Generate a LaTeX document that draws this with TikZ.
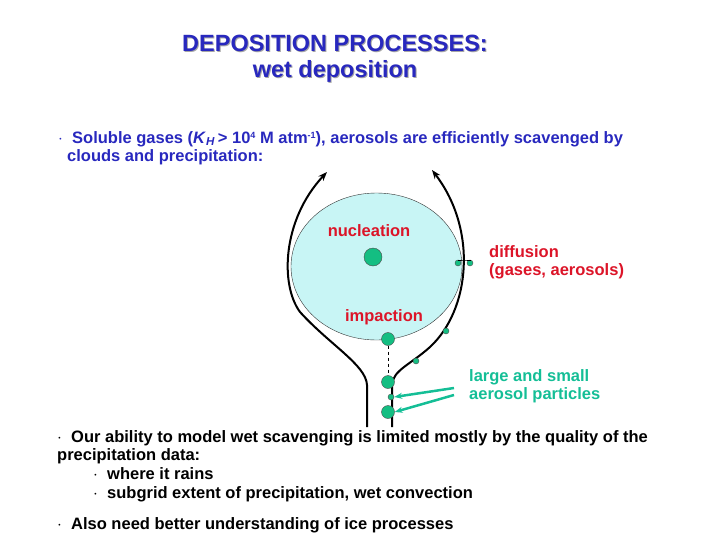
\documentclass[tikz,border=0pt]{standalone}
\usepackage{fontspec}
\setmainfont{Liberation Sans}
\usetikzlibrary{arrows.meta}
\definecolor{titleblue}{RGB}{40,40,190}
\definecolor{labelred}{RGB}{220,20,40}
\definecolor{aerosolteal}{RGB}{20,190,150}
\definecolor{cloudcyan}{RGB}{200,245,245}
\definecolor{dropgreen}{RGB}{20,190,130}
\begin{document}
\begin{tikzpicture}[x=1pt,y=-1pt,font=\bfseries\fontsize{16.5}{18}\selectfont,
    every node/.style={inner sep=0pt,anchor=base west},
    titletext/.style={anchor=base,font=\bfseries\fontsize{23.5}{26}\selectfont},
    drop/.style={circle,draw=black!70,fill=dropgreen,inner sep=0pt,anchor=center}]
    \useasboundingbox (0,0) rectangle (728,546);

    % title with shadow
    \node[titletext,text=black!35] at (336,52) {DEPOSITION PROCESSES:};
    \node[titletext,text=titleblue] (title) at (335,51) {DEPOSITION PROCESSES:};
    \node[titletext,text=black!35] at (336,78) {wet deposition};
    \node[titletext,text=titleblue] (subtitle) at (335,77) {wet deposition};

    \node[text=titleblue] (intro1) at (58,143) {$\cdot$\ \ Soluble gases (\textit{K}\textsubscript{\textit{H}}\,> 10{\fontsize{9}{9}\selectfont\raisebox{5pt}{4}} M atm{\fontsize{9}{9}\selectfont\raisebox{5pt}{-1}}), aerosols are efficiently scavenged by};
    \node[text=titleblue] (intro2) at (67,161) {clouds and precipitation:};

    % cloud
    \draw[fill=cloudcyan,draw=black!80] (376.5,266.5) ellipse [x radius=85.5,y radius=73.5];

    % flow lines
    \draw[line width=2pt,-{Stealth[length=9pt]}] (367,427) -- (367,385) .. controls (366,365) and (330,345) .. (300,312)
          .. controls (280,285) and (282,220) .. (327,172);
    \draw[line width=2pt,-{Stealth[length=9pt]}] (392,427) -- (392,385) .. controls (393,370) and (410,365) .. (430,347)
          .. controls (470,310) and (478,230) .. (432,170);

    % drops
    \node[drop,minimum size=18pt] (nucl) at (373,257) {};
    \node[drop,minimum size=13pt] (imp) at (388,339) {};
    \node[drop,minimum size=13pt] (d1) at (388,382) {};
    \node[drop,minimum size=6pt] (d2) at (391,397) {};
    \node[drop,minimum size=13pt] (d3) at (388,412) {};
    \node[drop,minimum size=6pt] (diffa) at (458,263) {};
    \node[drop,minimum size=6pt] (diffb) at (470,263) {};
    \node[drop,minimum size=6pt] (r1) at (446,331) {};
    \node[drop,minimum size=6pt] (r2) at (416,361) {};
    \draw (diffa.north) |- (464,260) -| (diffb.north);
    \draw[dashed,thick] (imp) -- (d1);

    % labels
    \node[anchor=base,text=labelred] (nucllab) at (369,236) {nucleation};
    \node[anchor=base,text=labelred] (implab) at (384,321) {impaction};
    \node[text=labelred] (difflab) at (489,257) {diffusion};
    \node[text=labelred] (difflab2) at (489,275) {(gases, aerosols)};
    \node[text=aerosolteal] (aerlab) at (469,381) {large and small};
    \node[text=aerosolteal] (aerlab2) at (469,399) {aerosol particles};
    \coordinate (a1) at (454,388);
    \coordinate (a2) at (454,395);
    \draw[aerosolteal,line width=2.5pt,-{Stealth[length=8pt]}] (a1) -- (d2.east);
    \draw[aerosolteal,line width=2.5pt,-{Stealth[length=8pt]}] (a2) -- (d3.east);

    % bottom text
    \node (txt1) at (57,442) {$\cdot$\ \ Our ability to model wet scavenging is limited mostly by the quality of the};
    \node (txt2) at (57,460) {precipitation data:};
    \node (txt3) at (93,479) {$\cdot$\ \ where it rains};
    \node (txt4) at (93,498) {$\cdot$\ \ subgrid extent of precipitation, wet convection};
    \node (txt5) at (57,529) {$\cdot$\ \ Also need better understanding of ice processes};
\end{tikzpicture}
\end{document}
